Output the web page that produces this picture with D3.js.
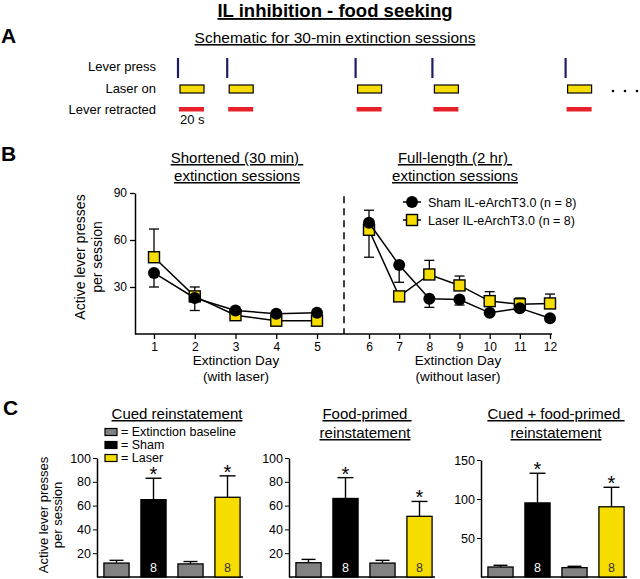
<!DOCTYPE html>
<html><head><meta charset="utf-8">
<script src="https://cdn.jsdelivr.net/npm/d3@7"></script>
<style>
body{margin:0;background:#fff;}
svg{display:block;font-family:"Liberation Sans",Arial,sans-serif;}
text{white-space:pre;}
.ul{text-decoration:underline;}
</style></head>
<body>
<svg id="c" width="640" height="579"></svg>
<script>
// ---------- DATA ----------
// Panel A schematic: lever press event times (s) in a 30-min session
const pressTimes = [0, 41, 148, 212, 323];
const timeoutSec = 20;
const rowLabels = ["Lever press", "Laser on", "Lever retracted"];

// Panel B: extinction days
const daysShort = [1, 2, 3, 4, 5];
const daysLong = [6, 7, 8, 9, 10, 11, 12];
const shamMean = [39, 23, 15, 13, 13.5, 71, 44, 22.5, 22, 13.5, 16.5, 10];
const shamSem  = [9, 8, 1, 1, 1, 8, 11, 5.5, 3.5, 1, 1.5, 1];
const shamErrDir = [-1, -1, -1, -1, -1, 1, -1, -1, -1, -1, -1, -1];
const laserMean = [49, 24, 12, 8.5, 8.5, 66.5, 24, 38, 31, 21, 19, 19.5];
const laserSem  = [18, 6, 1, 1, 1, 17.5, 1.5, 9, 6, 6, 4, 6];
const laserErrDir = [1, 1, -1, -1, -1, -1, 1, 1, 1, 1, 1, 1];
const bYTicks = [30, 60, 90];
const legendB = ["Sham IL-eArchT3.0 (n = 8)", "Laser IL-eArchT3.0 (n = 8)"];

// Panel C: reinstatement
const barCats = ["Baseline (sham)", "Sham", "Baseline (laser)", "Laser"];
const barKinds = ["base", "sham", "base", "laser"];
const cuedMean = [11.7, 65, 11, 67];
const cuedSem  = [2.3, 18, 2, 18];
const foodMean = [12, 66, 11.7, 51];
const foodSem  = [2.8, 17.5, 2.3, 12.5];
const comboMean = [12.8, 95, 12, 90];
const comboSem  = [2.2, 38, 1.7, 25];
const nLabels = ["", "8", "", "8"];
const starred = [false, true, false, true];
const cTicks12 = [20, 40, 60, 80, 100];
const cTicks3 = [50, 100, 150];
const legendC = ["= Extinction baseline", "= Sham", "= Laser"];

// ---------- STYLE ----------
const YEL = "#f7dc00", GRAY = "#828282", NAVY = "#1c1c68", RED = "#e8202a";
const svg = d3.select("#c");

// ---------- Title ----------
svg.append("text").attr("x", 335).attr("y", 17).attr("text-anchor", "middle")
  .attr("class", "ul").style("font-weight", "bold").style("font-size", "18.5px")
  .text("IL inhibition - food seeking");

// ---------- Panel A ----------
svg.append("text").attr("x", 1).attr("y", 43).style("font-weight", "bold").style("font-size", "21px").text("A");
svg.append("text").attr("x", 335).attr("y", 43).attr("text-anchor", "middle").attr("class", "ul")
  .style("font-size", "15.5px").text("Schematic for 30-min extinction sessions");
const rowY = [71, 93, 114];
svg.selectAll(".rowlab").data(rowLabels).enter().append("text")
  .attr("x", 156).attr("y", (d, i) => rowY[i]).attr("text-anchor", "end")
  .style("font-size", "13px").text(d => d);
const tA = d3.scaleLinear().domain([0, 20]).range([178, 202]);
const gA = svg.append("g");
gA.selectAll(".press").data(pressTimes).enter().append("line")
  .attr("x1", d => tA(d)).attr("x2", d => tA(d)).attr("y1", 58).attr("y2", 78)
  .attr("stroke", NAVY).attr("stroke-width", 2.2);
gA.selectAll(".laser").data(pressTimes).enter().append("rect")
  .attr("x", d => tA(d) + 2).attr("y", 85).attr("width", d => tA(d + timeoutSec) - tA(d)).attr("height", 8)
  .attr("fill", YEL).attr("stroke", "#000").attr("stroke-width", 1.2);
gA.selectAll(".retr").data(pressTimes).enter().append("rect")
  .attr("x", d => tA(d) + 1).attr("y", 107).attr("width", d => tA(d + timeoutSec) - tA(d) + 1).attr("height", 4.5)
  .attr("fill", RED);
svg.append("text").attr("x", tA(0) + 2).attr("y", 124).style("font-size", "13px").text("20 s");
svg.selectAll(".dot").data([0, 1, 2]).enter().append("circle")
  .attr("cx", d => 613 + d * 12).attr("cy", 91).attr("r", 1.3).attr("fill", "#000");

// ---------- Panel B ----------
svg.append("text").attr("x", 1).attr("y", 161).style("font-weight", "bold").style("font-size", "21px").text("B");
const bL = 135, bR = 552, bT = 193, bB = 334, divX = 344;
const yB = d3.scaleLinear().domain([0, 90]).range([bB, bT]);
const xL = d3.scaleLinear().domain([1, 5]).range([154, 317]);
const xR = d3.scaleLinear().domain([6, 12]).range([369, 550]);
const xDay = d => d <= 5 ? xL(d) : xR(d);

const gB = svg.append("g").style("font-size", "12px");
const yAx = gB.append("g").attr("transform", `translate(${bL},0)`)
  .call(d3.axisLeft(yB).tickValues(bYTicks).tickSize(5).tickSizeOuter(0).tickPadding(3));
yAx.selectAll("text").style("font-size", "12px").attr("fill", "#000").style("font-family", "inherit");
yAx.select(".domain").attr("stroke-width", 1.5);
yAx.selectAll(".tick line").attr("stroke-width", 1.3);
[[xL, daysShort], [xR, daysLong]].forEach(([sc, dd]) => {
  const ax = gB.append("g").attr("transform", `translate(0,${bB})`)
    .call(d3.axisBottom(sc).tickValues(dd).tickFormat(d3.format("d")).tickSize(5).tickPadding(3));
  ax.select(".domain").remove();
  ax.selectAll("text").style("font-size", "12px").attr("fill", "#000").style("font-family", "inherit");
  ax.selectAll(".tick line").attr("stroke-width", 1.3);
});
gB.append("line").attr("x1", bL).attr("x2", bR).attr("y1", bB).attr("y2", bB).attr("stroke", "#000").attr("stroke-width", 1.5);
gB.append("line").attr("x1", divX).attr("x2", divX).attr("y1", yB(88)).attr("y2", bB)
  .attr("stroke", "#000").attr("stroke-width", 1.5).attr("stroke-dasharray", "7,5");

// axis titles
svg.append("text").attr("transform", "translate(85,257) rotate(-90)").attr("text-anchor", "middle")
  .style("font-size", "14px").text("Active lever presses");
svg.append("text").attr("transform", "translate(102,257) rotate(-90)").attr("text-anchor", "middle")
  .style("font-size", "14px").text("per session");
[[236, "Extinction Day", "(with laser)"], [458, "Extinction Day", "(without laser)"]].forEach(([cx, a, b]) => {
  svg.append("text").attr("x", cx).attr("y", 365).attr("text-anchor", "middle").style("font-size", "13.5px").text(a);
  svg.append("text").attr("x", cx).attr("y", 381).attr("text-anchor", "middle").style("font-size", "13.5px").text(b);
});
[[237, "Shortened (30 min) ", "extinction sessions"], [455, "Full-length (2 hr) ", "extinction sessions"]].forEach(([cx, a, b]) => {
  svg.append("text").attr("x", cx).attr("y", 163).attr("text-anchor", "middle").attr("class", "ul").style("font-size", "15px").text(a);
  svg.append("text").attr("x", cx).attr("y", 181).attr("text-anchor", "middle").attr("class", "ul").style("font-size", "15px").text(b);
});

function drawSeries(means, sems, dirs, shape) {
  const pts = means.map((m, i) => ({ day: i + 1, m, s: sems[i], dir: dirs[i] }));
  const g = gB.append("g");
  // error bars
  pts.forEach(p => {
    const x = xDay(p.day), y0 = yB(p.m), y1 = yB(p.m + p.dir * p.s);
    g.append("line").attr("x1", x).attr("x2", x).attr("y1", y0).attr("y2", y1).attr("stroke", "#000").attr("stroke-width", 1.3);
    g.append("line").attr("x1", x - 5).attr("x2", x + 5).attr("y1", y1).attr("y2", y1).attr("stroke", "#000").attr("stroke-width", 1.3);
  });
  const line = d3.line().x(d => xDay(d.day)).y(d => yB(d.m));
  g.append("path").attr("d", line(pts.filter(p => p.day <= 5))).attr("fill", "none").attr("stroke", "#000").attr("stroke-width", 1.5);
  g.append("path").attr("d", line(pts.filter(p => p.day >= 6))).attr("fill", "none").attr("stroke", "#000").attr("stroke-width", 1.5);
  pts.forEach(p => {
    const x = xDay(p.day), y = yB(p.m);
    if (shape === "circle") g.append("circle").attr("cx", x).attr("cy", y).attr("r", 6).attr("fill", "#000");
    else g.append("rect").attr("x", x - 5.5).attr("y", y - 5.5).attr("width", 11).attr("height", 11)
      .attr("fill", YEL).attr("stroke", "#000").attr("stroke-width", 1.4);
  });
}
drawSeries(laserMean, laserSem, laserErrDir, "square");
drawSeries(shamMean, shamSem, shamErrDir, "circle");

// legend B
const lgB = svg.append("g");
[202, 220].forEach((y, i) => {
  lgB.append("line").attr("x1", 403).attr("x2", 421).attr("y1", y).attr("y2", y).attr("stroke", "#000").attr("stroke-width", 1.5);
  if (i === 0) lgB.append("circle").attr("cx", 412).attr("cy", y).attr("r", 6).attr("fill", "#000");
  else lgB.append("rect").attr("x", 406.5).attr("y", y - 5.5).attr("width", 11).attr("height", 11).attr("fill", YEL).attr("stroke", "#000").attr("stroke-width", 1.4);
  lgB.append("text").attr("x", 428).attr("y", y + 4.5).style("font-size", "12.5px").text(legendB[i]);
});

// ---------- Panel C ----------
svg.append("text").attr("x", 3).attr("y", 415).style("font-weight", "bold").style("font-size", "21px").text("C");
svg.append("text").attr("transform", "translate(48,515) rotate(-90)").attr("text-anchor", "middle")
  .style("font-size", "13px").text("Active lever presses");
svg.append("text").attr("transform", "translate(62,515) rotate(-90)").attr("text-anchor", "middle")
  .style("font-size", "13px").text("per session");

const fillOf = k => k === "base" ? GRAY : k === "sham" ? "#000" : YEL;
function barPanel(axisX, yMax, ticks, yTop, means, sems, titles) {
  const base = 577;
  const y = d3.scaleLinear().domain([0, yMax]).range([base, yTop]);
  const x = d3.scaleBand().domain(barCats).range([axisX + 1, axisX + 149]).paddingInner(0.32).paddingOuter(0.16);
  const g = svg.append("g");
  const ax = g.append("g").attr("transform", `translate(${axisX},0)`)
    .call(d3.axisLeft(y).tickValues(ticks).tickSize(4).tickSizeOuter(0).tickPadding(2));
  ax.selectAll("text").style("font-size", "12.5px").attr("fill", "#000").style("font-family", "inherit");
  ax.select(".domain").attr("stroke-width", 1.5);
  g.append("line").attr("x1", axisX).attr("x2", axisX + 146).attr("y1", base).attr("y2", base).attr("stroke", "#000").attr("stroke-width", 1.5);
  barCats.forEach((c, i) => {
    const bx = x(c), bw = x.bandwidth(), cx = bx + bw / 2;
    const top = y(means[i]), errTop = y(means[i] + sems[i]);
    g.append("line").attr("x1", cx).attr("x2", cx).attr("y1", top).attr("y2", errTop).attr("stroke", "#000").attr("stroke-width", 1.4);
    const cw = barKinds[i] === "base" ? 7 : 8;
    g.append("line").attr("x1", cx - cw).attr("x2", cx + cw).attr("y1", errTop).attr("y2", errTop).attr("stroke", "#000").attr("stroke-width", 1.4);
    g.append("rect").attr("x", bx).attr("y", top).attr("width", bw).attr("height", base - top)
      .attr("fill", fillOf(barKinds[i])).attr("stroke", "#000").attr("stroke-width", 1.3);
    if (nLabels[i]) g.append("text").attr("x", cx).attr("y", 572).attr("text-anchor", "middle")
      .style("font-size", "12.5px").attr("fill", barKinds[i] === "sham" ? "#fff" : "#333").text(nLabels[i]);
    if (starred[i]) g.append("text").attr("x", cx).attr("y", errTop + 3).attr("text-anchor", "middle")
      .style("font-size", "20px").text("*");
  });
  titles.forEach((t, j) => {
    g.append("text").attr("x", t[0]).attr("y", titles.length === 1 ? 419 : 419 + j * 19).attr("text-anchor", "middle")
      .attr("class", "ul").style("font-size", "15px").text(t[1]);
  });
}
barPanel(97, 100, cTicks12, 458, cuedMean, cuedSem, [[177, "Cued reinstatement"]]);
barPanel(289, 100, cTicks12, 458, foodMean, foodSem, [[367, "Food-primed "], [365, "reinstatement"]]);
barPanel(481, 150, cTicks3, 460, comboMean, comboSem, [[556, "Cued + food-primed "], [556, "reinstatement"]]);

// legend C
const lgC = svg.append("g");
[432, 445, 458].forEach((y, i) => {
  lgC.append("rect").attr("x", 105).attr("y", y - 3.5).attr("width", 12).attr("height", 7)
    .attr("fill", [GRAY, "#000", YEL][i]).attr("stroke", "#000").attr("stroke-width", 1.2);
  lgC.append("text").attr("x", 121).attr("y", y + 4).style("font-size", "12.5px").text(legendC[i]);
});
</script>
</body></html>
